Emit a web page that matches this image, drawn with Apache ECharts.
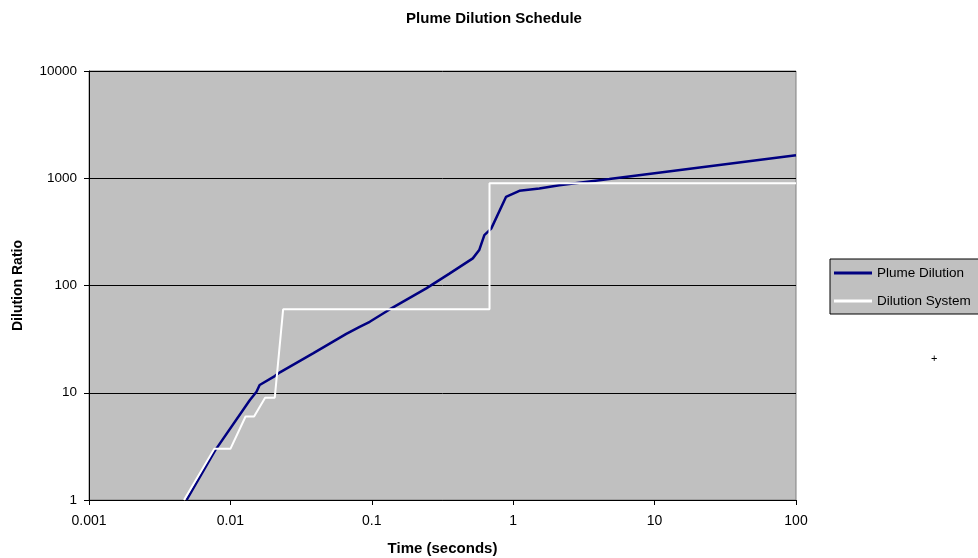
<!DOCTYPE html>
<html>
<head>
<meta charset="utf-8">
<script src="https://cdn.jsdelivr.net/npm/echarts@6/dist/echarts.min.js"></script>
<style>
html,body{margin:0;padding:0;background:#fff;}
#chart{width:978px;height:558px;}
</style>
</head>
<body>
<div id="chart"></div>
<script>
const chartTitle = "Plume Dilution Schedule";
const xAxisName = "Time (seconds)";
const yAxisName = "Dilution Ratio";
const seriesNames = ["Plume Dilution", "Dilution System"];

const plumeTime  = [0.0049, 0.0078, 0.0137, 0.0153, 0.0161, 0.0206, 0.0224, 0.0384, 0.066, 0.082, 0.0967, 0.1336, 0.2428, 0.354, 0.518, 0.575, 0.625, 0.699, 0.889, 1.106, 1.53, 2.12, 4.78, 10, 100];
const plumeRatio = [1, 2.9, 8.5, 10.2, 11.8, 14.3, 15.5, 23.3, 35.4, 41.2, 45.9, 59.8, 94, 129, 179, 214, 295, 339, 670, 764, 803, 862, 983, 1115, 1640];

const systemTime  = [0.0047, 0.0077, 0.01, 0.0128, 0.0147, 0.0176, 0.0206, 0.0236, 0.68, 0.68, 100];
const systemRatio = [1, 3, 3, 6, 6, 9, 9, 60, 60, 900, 900];

const xTicks = [0.001, 0.01, 0.1, 1, 10, 100];
const yTicks = [1, 10, 100, 1000, 10000];

const pair = (xs, ys) => xs.map((x, i) => [x, ys[i]]);
const fmt = v => String(+Number(v).toPrecision(6));
const FONT = "'Liberation Sans', Arial, sans-serif";

const chart = echarts.init(document.getElementById('chart'), null, {renderer: 'canvas'});
chart.setOption({
  animation: false,
  backgroundColor: '#ffffff',
  title: {
    text: chartTitle,
    left: 489, top: 6, textAlign: 'center',
    textStyle: {fontFamily: FONT, fontSize: 15, fontWeight: 'bold', color: '#000'}
  },
  grid: {
    left: 89, top: 71, right: 182, bottom: 58,
    outerBoundsMode: 'none', containLabel: false,
    show: true, backgroundColor: '#c0c0c0', borderColor: '#808080', borderWidth: 1
  },
  legend: {
    orient: 'vertical',
    left: 830, top: 259,
    backgroundColor: '#c0c0c0',
    borderColor: '#000', borderWidth: 1,
    padding: [7, 14, 6, 4],
    itemGap: 14,
    itemWidth: 38, itemHeight: 3,
    textStyle: {fontFamily: FONT, fontSize: 13.5, color: '#000'},
    data: [
      {name: seriesNames[0], icon: 'rect', itemStyle: {color: '#000080'}},
      {name: seriesNames[1], icon: 'rect', itemStyle: {color: '#ffffff'}}
    ]
  },
  xAxis: {
    type: 'log', logBase: 10,
    min: xTicks[0], max: xTicks[xTicks.length - 1],
    name: xAxisName, nameLocation: 'middle', nameGap: 41,
    nameTextStyle: {fontFamily: FONT, fontSize: 15, fontWeight: 'bold', color: '#000'},
    axisLine: {show: true, lineStyle: {color: '#000', width: 1}},
    axisTick: {show: true, inside: false, length: 5, lineStyle: {color: '#000'}},
    minorTick: {show: false},
    axisLabel: {fontFamily: FONT, fontSize: 14, color: '#000', margin: 14, formatter: fmt},
    splitLine: {show: false}
  },
  yAxis: {
    type: 'log', logBase: 10,
    min: yTicks[0], max: yTicks[yTicks.length - 1],
    name: yAxisName, nameLocation: 'middle', nameGap: 64, nameRotate: 90,
    nameTextStyle: {fontFamily: FONT, fontSize: 14, fontWeight: 'bold', color: '#000'},
    axisLine: {show: true, lineStyle: {color: '#000', width: 1}},
    axisTick: {show: true, inside: false, length: 5, lineStyle: {color: '#000'}},
    minorTick: {show: false},
    axisLabel: {fontFamily: FONT, fontSize: 13.5, color: '#000', margin: 12, formatter: fmt},
    splitLine: {show: true, lineStyle: {color: '#000', width: 1}}
  },
  graphic: [{
    type: 'text', left: 931, top: 353,
    style: {text: '+', fontFamily: FONT, fontSize: 11, fill: '#000'}
  }],
  series: [
    {
      name: seriesNames[0], type: 'line', data: pair(plumeTime, plumeRatio),
      showSymbol: false, symbol: 'none', smooth: false,
      color: '#000080',
      lineStyle: {color: '#000080', width: 2.5}
    },
    {
      name: seriesNames[1], type: 'line', data: pair(systemTime, systemRatio),
      showSymbol: false, symbol: 'none', smooth: false,
      color: '#ffffff',
      lineStyle: {color: '#ffffff', width: 2}
    }
  ]
});
</script>
</body>
</html>
